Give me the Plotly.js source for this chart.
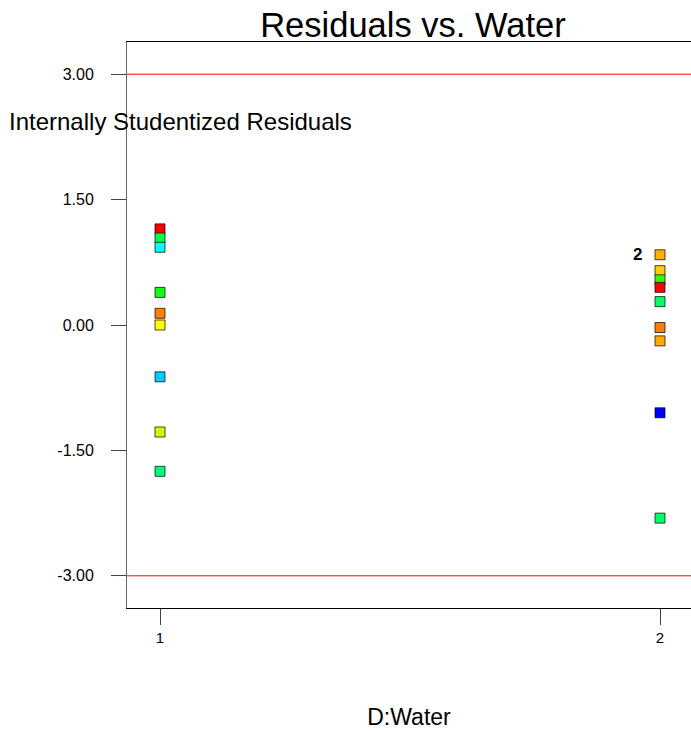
<!DOCTYPE html>
<html>
<head>
<meta charset="utf-8">
<script src="https://cdn.plot.ly/plotly-3.0.1.min.js"></script>
<style>html,body{margin:0;padding:0;background:#fff;}#chart{width:691px;height:731px;}</style>
</head>
<body>
<div id="chart"></div>
<script>
// Data
const waterLevels = [1, 2];
const residualsAt1 = [1.15, 1.04, 0.93, 0.39, 0.14, 0.00, -0.62, -1.28, -1.75];
const colorsAt1 = ['#ff0000', '#00ff44', '#00ffff', '#11ff11', '#ff8000', '#ffff00', '#00ccff', '#ccff00', '#00ff80'];
const residualsAt2 = [0.84, 0.65, 0.54, 0.45, 0.28, -0.03, -0.19, -1.05, -2.31];
const colorsAt2 = ['#ffb000', '#ffcc00', '#33ff00', '#ff0000', '#00ff66', '#ff8000', '#ffaa00', '#0000ff', '#00ff66'];
const pointLabel = '2';
const pointLabelValue = residualsAt2[0];
const limitLines = [3, -3];
const yTickVals = [3, 1.5, 0, -1.5, -3];
const yTickText = ['3.00', '1.50', '0.00', '-1.50', '-3.00'];
const xTickText = ['1', '2'];

const FONT = 'Liberation Sans, Arial, sans-serif';

const traces = [
  {
    x: residualsAt1.map(() => waterLevels[0]),
    y: residualsAt1,
    type: 'scatter', mode: 'markers', showlegend: false, hoverinfo: 'skip',
    marker: {symbol: 'square', size: 10, color: colorsAt1, line: {color: 'rgba(0,0,0,0.7)', width: 1}}
  },
  {
    x: residualsAt2.map(() => waterLevels[1]),
    y: residualsAt2,
    type: 'scatter', mode: 'markers', showlegend: false, hoverinfo: 'skip',
    marker: {symbol: 'square', size: 10, color: colorsAt2, line: {color: 'rgba(0,0,0,0.7)', width: 1}}
  }
];

const layout = {
  width: 691, height: 731,
  margin: {l: 127, r: 0, t: 42, b: 123, pad: 0},
  paper_bgcolor: '#fff', plot_bgcolor: '#fff',
  font: {family: FONT, color: '#000'},
  title: {text: 'Residuals vs. Water', font: {family: FONT, size: 34.5, color: '#000'},
          xref: 'paper', x: 0.507, xanchor: 'center', yref: 'container', y: 1 - 25/731, yanchor: 'middle'},
  xaxis: {
    range: [0.934, 2.062],
    tickvals: waterLevels, ticktext: xTickText,
    ticks: 'outside', ticklen: 16, tickcolor: '#444', tickwidth: 1,
    tickfont: {family: FONT, size: 15, color: '#000'},
    showgrid: false, zeroline: false,
    showline: true, linecolor: '#000', linewidth: 1, mirror: true,
    title: {text: 'D:Water', font: {family: FONT, size: 23, color: '#000'}, standoff: 63}
  },
  yaxis: {
    range: [-3.385, 3.385],
    tickvals: yTickVals, ticktext: yTickText,
    ticks: 'outside', ticklen: 15, tickcolor: '#444', tickwidth: 1,
    ticklabelstandoff: 14,
    tickfont: {family: FONT, size: 16, color: '#000'},
    showgrid: false, zeroline: false,
    showline: true, linecolor: '#666', linewidth: 1
  },
  shapes: limitLines.map(v => ({
    type: 'line', xref: 'paper', x0: 0, x1: 1, yref: 'y', y0: v, y1: v,
    line: {color: '#ff0000', width: 1}
  })),
  annotations: [
    {text: 'Internally Studentized Residuals', xref: 'paper', x: -120/564, xanchor: 'left',
     yref: 'y', y: 2.43, yanchor: 'middle', showarrow: false,
     font: {family: FONT, size: 24, color: '#000'}},
    {text: pointLabel, xref: 'x', x: waterLevels[1], yref: 'y', y: pointLabelValue,
     xanchor: 'right', xshift: -16, yanchor: 'middle', showarrow: false,
     font: {family: FONT, size: 17, color: '#000', weight: 'bold'}}
  ]
};

Plotly.newPlot('chart', traces, layout, {staticPlot: true, displayModeBar: false});
</script>
</body>
</html>
